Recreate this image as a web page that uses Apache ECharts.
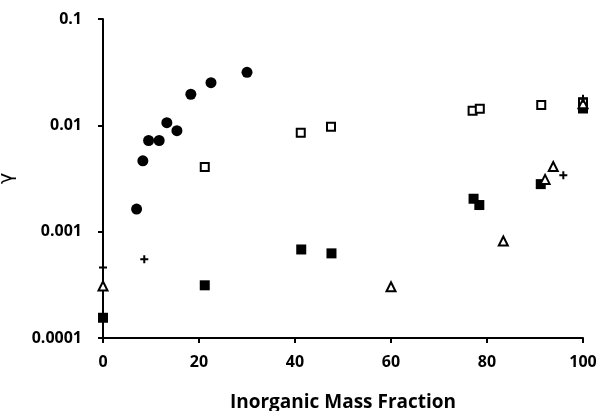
<!DOCTYPE html>
<html><head><meta charset="utf-8">
<script src="https://cdn.jsdelivr.net/npm/echarts@6/dist/echarts.min.js"></script>
<style>html,body{margin:0;padding:0;background:#fff}#c{width:599px;height:411px}</style>
</head><body><div id="c"></div>
<script>
// Data
const filledCircles = [[7.0,0.00163],[8.3,0.00464],[9.5,0.0072],[11.7,0.0072],[13.3,0.0106],[15.4,0.0089],[18.3,0.0196],[22.5,0.0252],[30.0,0.0315]];
const openSquares = [[21.2,0.00406],[41.2,0.0085],[47.5,0.0097],[77.0,0.0137],[78.5,0.0143],[91.3,0.0155],[100,0.0165]];
const filledSquares = [[0,0.000155],[21.2,0.000313],[41.3,0.00068],[47.6,0.000625],[77.2,0.00204],[78.4,0.00178],[91.2,0.0028],[100,0.0144]];
const openTriangles = [[0,0.000308],[60,0.000303],[83.4,0.000817],[92.1,0.0031],[93.8,0.0041],[100,0.016]];
const plusMarks = [[0,0.00046],[8.6,0.00055],[95.9,0.0034],[100,0.0178]];
const yTickLabels = {'-4':'0.0001','-3':'0.001','-2':'0.01','-1':'0.1'};
const xTitle = 'Inorganic Mass Fraction';
const yTitle = 'γ';

const font = '"Open Sans", "Liberation Sans", sans-serif';
const chart = echarts.init(document.getElementById('c'), null, {renderer:'canvas'});
const plusPath = 'path://M3,0h2v3h3v2h-3v3h-2v-3h-3v-2h3z';
chart.setOption({
  animation:false,
  backgroundColor:'#fff',
  grid:{left:103,right:16,top:19,bottom:73,containLabel:false,outerBoundsMode:'none'},
  xAxis:{type:'value',min:0,max:100,interval:20,
    name:xTitle,nameLocation:'middle',nameGap:55,
    nameTextStyle:{fontFamily:font,fontWeight:'bold',fontSize:19,color:'#000'},
    axisLine:{show:true,onZero:false,lineStyle:{color:'#000',width:2}},
    axisTick:{show:true,inside:false,length:5,lineStyle:{color:'#000',width:2}},
    axisLabel:{fontFamily:font,fontWeight:'bold',fontSize:16,color:'#000',margin:16},
    splitLine:{show:false}},
  yAxis:{type:'log',logBase:10,min:0.0001,max:0.1,
    name:yTitle,nameLocation:'middle',nameGap:86,nameRotate:90,
    nameTextStyle:{fontFamily:'"DejaVu Sans", sans-serif',fontSize:19,color:'#000'},
    axisLine:{show:true,onZero:false,lineStyle:{color:'#000',width:2}},
    axisTick:{show:true,inside:false,length:5,lineStyle:{color:'#000',width:2}},
    minorTick:{show:false},
    axisLabel:{fontFamily:font,fontWeight:'bold',fontSize:16,color:'#000',margin:21,
      formatter:v=>yTickLabels[String(Math.round(Math.log10(v)))]||''},
    splitLine:{show:false}},
  series:[
    {type:'scatter',data:filledCircles,symbol:'circle',symbolSize:11,itemStyle:{color:'#000',opacity:1}},
    {type:'scatter',data:filledSquares,symbol:'rect',symbolSize:10,itemStyle:{color:'#000',opacity:1}},
    {type:'scatter',data:openSquares,symbol:'rect',symbolSize:8,itemStyle:{color:'#fff',borderColor:'#000',borderWidth:2,opacity:1}},
    {type:'scatter',data:openTriangles,symbol:'triangle',symbolSize:9,itemStyle:{color:'#fff',borderColor:'#000',borderWidth:2,opacity:1}},
    {type:'scatter',data:plusMarks,symbol:plusPath,symbolSize:8,itemStyle:{color:'#000',opacity:1}}
  ]
});
</script></body></html>
